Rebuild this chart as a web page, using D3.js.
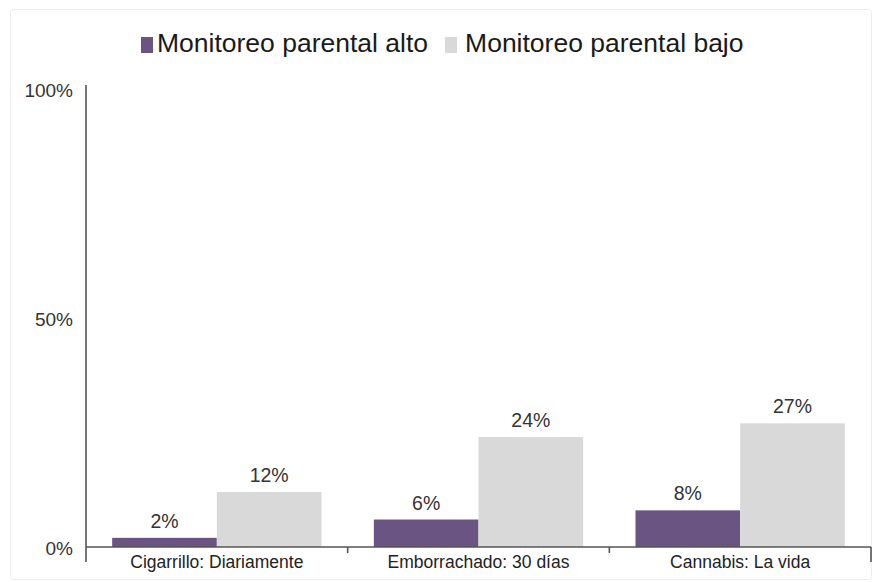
<!DOCTYPE html>
<html>
<head>
<meta charset="utf-8">
<script src="https://cdn.jsdelivr.net/npm/d3@7"></script>
<style>
  html, body { margin: 0; padding: 0; background: #ffffff; }
  svg { display: block; font-family: "Liberation Sans", Arial, sans-serif; }
</style>
</head>
<body>
<svg id="chart" width="875" height="582"></svg>
<script>
const categories = ["Cigarrillo: Diariamente", "Emborrachado: 30 días", "Cannabis: La vida"];
const seriesNames = ["Monitoreo parental alto", "Monitoreo parental bajo"];
const altoValues = [2, 6, 8];
const bajoValues = [12, 24, 27];
const yTicks = [0, 50, 100];
const seriesColors = ["#6a5482", "#d9d9d9"];

const svg = d3.select("#chart");

// faint frame
svg.append("rect")
  .attr("x", 10.5).attr("y", 9.5).attr("width", 861).attr("height", 570)
  .attr("rx", 3).attr("fill", "none").attr("stroke", "#ececec").attr("stroke-width", 1);

const plotLeft = 86, plotRight = 871, plotTop = 89, plotBottom = 547;

const y = d3.scaleLinear().domain([0, 100]).range([plotBottom, plotTop]);
const x0 = d3.scaleBand().domain(categories).range([plotLeft, plotRight]).padding(0);
const bw = x0.bandwidth();
const x1 = d3.scaleBand().domain(seriesNames).range([bw * 0.1, bw * 0.9]).padding(0);
const color = d3.scaleOrdinal().domain(seriesNames).range(seriesColors);

const rows = categories.map((c, i) => ({ cat: c, vals: [altoValues[i], bajoValues[i]] }));

// bars
const g = svg.append("g");
const groups = g.selectAll("g.grp").data(rows).join("g")
  .attr("class", "grp")
  .attr("transform", d => `translate(${x0(d.cat)},0)`);

groups.selectAll("rect").data(d => d.vals.map((v, k) => ({ s: seriesNames[k], v })))
  .join("rect")
  .attr("x", d => x1(d.s))
  .attr("y", d => y(d.v))
  .attr("width", x1.bandwidth())
  .attr("height", d => y(0) - y(d.v))
  .attr("fill", d => color(d.s));

groups.selectAll("text.val").data(d => d.vals.map((v, k) => ({ s: seriesNames[k], v })))
  .join("text")
  .attr("class", "val")
  .attr("x", d => x1(d.s) + x1.bandwidth() / 2)
  .attr("y", d => y(d.v) - 10)
  .attr("text-anchor", "middle")
  .attr("font-size", 19.5)
  .attr("fill", "#333")
  .text(d => d.v + "%");

// y axis
const yAxis = svg.append("g")
  .attr("transform", `translate(${plotLeft},0)`)
  .call(d3.axisLeft(y).tickValues(yTicks).tickFormat(d => d + "%").tickSize(0).tickPadding(13));
yAxis.select(".domain").attr("stroke", "#555").attr("stroke-width", 1.6)
  .attr("d", `M0,${plotBottom}V${plotTop - 4}`);
yAxis.selectAll("text")
  .attr("font-size", 19).attr("fill", "#333").attr("dy", "0.42em")
  .attr("font-family", "Liberation Sans, Arial, sans-serif");

// x axis
const xAxis = svg.append("g")
  .attr("transform", `translate(0,${plotBottom})`)
  .call(d3.axisBottom(x0).tickSize(0).tickPadding(9).tickSizeOuter(0));
xAxis.select(".domain").attr("stroke", "#555").attr("stroke-width", 1.6)
  .attr("d", `M${plotLeft},0H${plotRight}`);
xAxis.selectAll("text")
  .attr("font-size", 17.5).attr("fill", "#222")
  .attr("font-family", "Liberation Sans, Arial, sans-serif");

// boundary ticks
const bounds = categories.map(c => x0(c)).concat([x0(categories[categories.length - 1]) + bw]);
xAxis.selectAll("line.bnd").data(bounds).join("line")
  .attr("class", "bnd")
  .attr("x1", d => d).attr("x2", d => d)
  .attr("y1", 0)
  .attr("y2", (d, i) => (i === 0 || i === bounds.length - 1) ? 15 : 6)
  .attr("stroke", "#555").attr("stroke-width", 1.6);

// legend
const legend = svg.append("g");
let lx = 141;
seriesNames.forEach((s, i) => {
  legend.append("rect")
    .attr("x", lx).attr("y", 37).attr("width", 12).attr("height", 16)
    .attr("fill", color(s));
  const off = i === 0 ? 16 : 20;
  const t = legend.append("text")
    .attr("x", lx + off).attr("y", 52)
    .attr("font-size", 26.5).attr("fill", "#1a1a1a")
    .text(s);
  const w = t.node().getComputedTextLength();
  lx = lx + off + w + 17;
});
</script>
</body>
</html>
